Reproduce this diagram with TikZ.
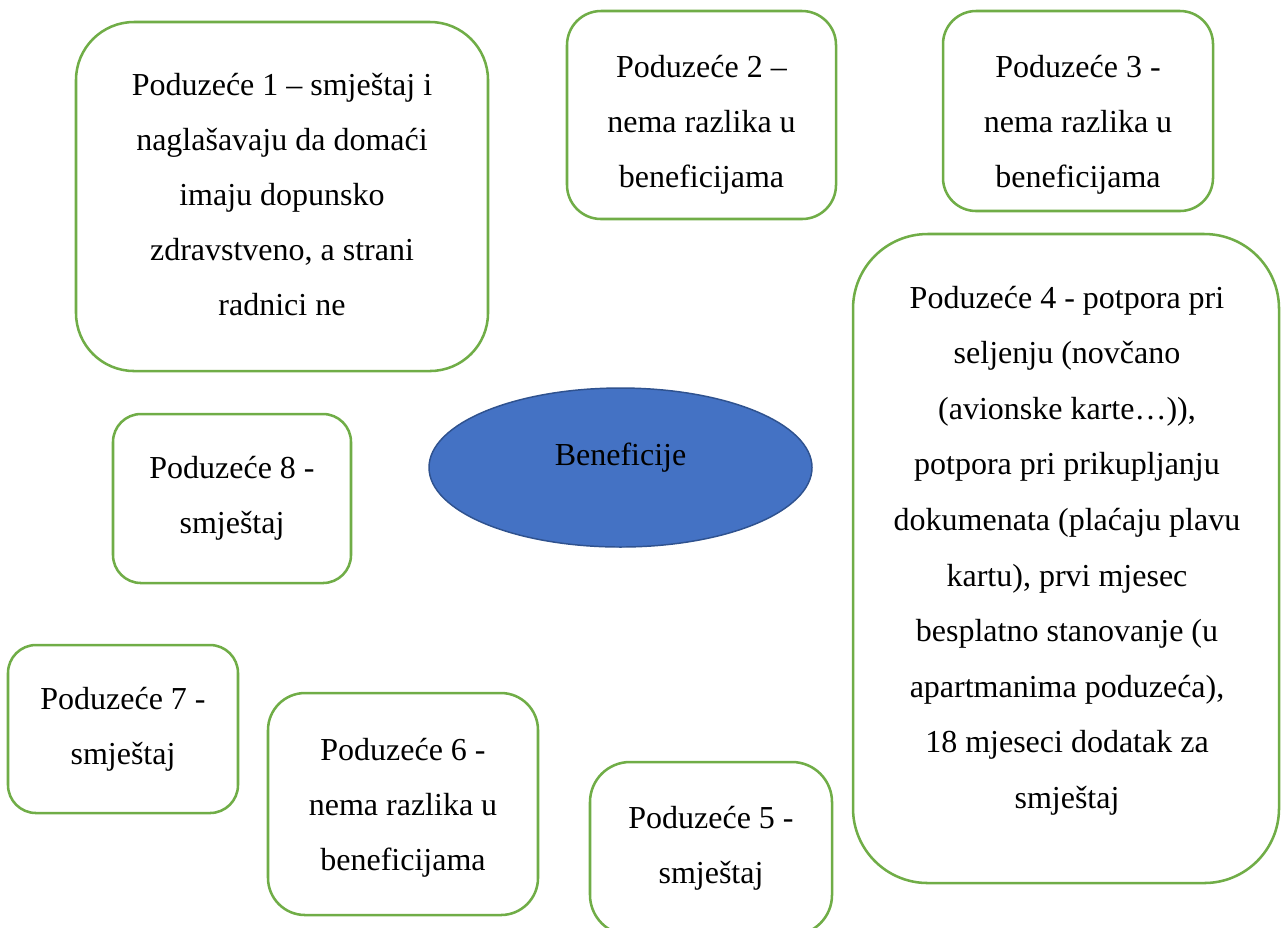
\documentclass[tikz,border=0pt]{standalone}
\usepackage{fontspec}
\setmainfont{Liberation Serif}
\usetikzlibrary{shapes.geometric}
\definecolor{boxgreen}{HTML}{70AD47}
\definecolor{ellblue}{HTML}{4472C4}
\definecolor{ellline}{HTML}{2F528F}
\tikzset{
  card/.style 2 args={draw=boxgreen, line width=0.95pt, fill=white, inner sep=0pt,
    minimum width=#1*0.375pt, minimum height=#2*0.375pt},
  lbl/.style={anchor=base, text width=12cm, align=flush center, inner sep=0pt,
    font=\fontsize{12}{20.7}\selectfont},
  lblwide/.style={lbl, font=\fontsize{12}{20.85}\selectfont},
  hub/.style={ellipse, draw=ellline, line width=0.55pt, fill=ellblue, inner sep=0pt,
    minimum width=383*0.375pt, minimum height=159*0.375pt},
}
\begin{document}
\begin{tikzpicture}[x=0.375pt,y=-0.375pt]
\useasboundingbox (0,0) rectangle (1282,927);
\clip (0,0) rectangle (1282,927);

% boxes
\node[card={412}{349}, rounded corners=21.75pt] (b1) at (282,196.5) {};
\node[card={269}{208}, rounded corners=12.75pt] (b2) at (701.5,115) {};
\node[card={270}{200}, rounded corners=12.4pt] (b3) at (1078,111) {};
\node[card={426}{649}, rounded corners=28pt] (b4) at (1066,558.5) {};
\node[card={242}{173}, rounded corners=15pt] (b5) at (711,848.5) {};
\node[card={270}{222}, rounded corners=13.9pt] (b6) at (403,804) {};
\node[card={230}{168}, rounded corners=10.5pt] (b7) at (123,729) {};
\node[card={238}{169}, rounded corners=10.5pt] (b8) at (232,498.5) {};

% central ellipse
\node[hub] (e) at (620.5,467.5) {};
\node[lbl] (te) at (620.5,465) {Beneficije};

% texts
\node[lbl] (t1) at (282,95) {Poduzeće 1 – smještaj i\\naglašavaju da domaći\\imaju dopunsko\\zdravstveno, a strani\\radnici ne};
\node[lbl] (t2) at (701.5,77) {Poduzeće 2 –\\nema razlika u\\beneficijama};
\node[lbl] (t3) at (1078,77) {Poduzeće 3 -\\nema razlika u\\beneficijama};
\node[lblwide] (t4) at (1067,308) {Poduzeće 4 - potpora pri\\seljenju (novčano\\(avionske karte…)),\\potpora pri prikupljanju\\dokumenata (plaćaju plavu\\kartu), prvi mjesec\\besplatno stanovanje (u\\apartmanima poduzeća),\\18 mjeseci dodatak za\\smještaj};
\node[lbl] (t5) at (711,828) {Poduzeće 5 -\\smještaj};
\node[lbl] (t6) at (403,760) {Poduzeće 6 -\\nema razlika u\\beneficijama};
\node[lbl] (t7) at (123,709) {Poduzeće 7 -\\smještaj};
\node[lbl] (t8) at (232,478) {Poduzeće 8 -\\smještaj};
\end{tikzpicture}
\end{document}
